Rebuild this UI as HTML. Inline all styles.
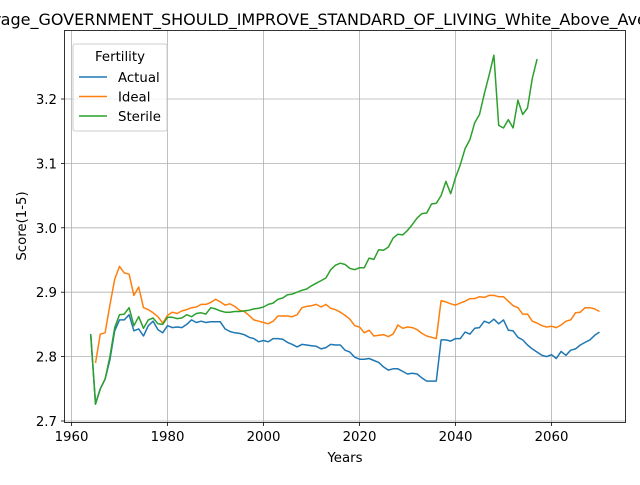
<!DOCTYPE html>
<html><head><meta charset="utf-8"><style>
body{margin:0;background:#fff;overflow:hidden;}
svg text{font-family:"DejaVu Sans","Liberation Sans",sans-serif;}
</style></head><body>
<svg id="chart" width="640" height="480" xmlns="http://www.w3.org/2000/svg">
<text x="324" y="25" font-size="16" text-anchor="middle">Average_GOVERNMENT_SHOULD_IMPROVE_STANDARD_OF_LIVING_White_Above_Average</text>
<g id="grid"></g>
<g id="series"></g>
<rect x="64.5" y="30.5" width="561" height="392" fill="none" stroke="#000" stroke-width="0.8"/>
<g id="ticks"></g>
<text x="345" y="462" font-size="13.3" text-anchor="middle">Years</text>
<text transform="translate(26,226) rotate(-90)" font-size="13.3" text-anchor="middle">Score(1-5)</text>
<g>
<rect x="73" y="44" width="94" height="87" fill="#fff" fill-opacity="0.8" stroke="#ccc" rx="2"/>
<text x="120" y="61" font-size="13.3" text-anchor="middle">Fertility</text>
<g id="legend-items"></g>
</g>
</svg>
<script>
const actualYears=[];for(let y=1964;y<=2070;y++)actualYears.push(y);
const actual=[2.835,2.727,2.75,2.765,2.795,2.84,2.857,2.857,2.865,2.84,2.843,2.832,2.848,2.855,2.842,2.837,2.848,2.845,2.846,2.845,2.85,2.857,2.853,2.855,2.853,2.854,2.854,2.854,2.843,2.839,2.837,2.836,2.834,2.83,2.828,2.823,2.825,2.823,2.828,2.828,2.827,2.822,2.819,2.815,2.819,2.818,2.817,2.816,2.812,2.814,2.819,2.818,2.818,2.81,2.807,2.799,2.796,2.796,2.797,2.794,2.791,2.784,2.779,2.781,2.781,2.777,2.773,2.774,2.773,2.767,2.762,2.762,2.762,2.826,2.826,2.824,2.828,2.828,2.838,2.835,2.844,2.845,2.855,2.852,2.858,2.851,2.857,2.841,2.84,2.83,2.826,2.818,2.812,2.807,2.802,2.8,2.803,2.797,2.808,2.802,2.81,2.812,2.818,2.822,2.826,2.833,2.838];
const idealYears=[];for(let y=1965;y<=2070;y++)idealYears.push(y);
const ideal=[2.79,2.835,2.837,2.88,2.92,2.94,2.93,2.928,2.895,2.908,2.876,2.873,2.868,2.862,2.852,2.864,2.869,2.867,2.871,2.873,2.876,2.877,2.881,2.881,2.884,2.889,2.885,2.88,2.882,2.878,2.872,2.87,2.864,2.857,2.855,2.853,2.851,2.855,2.863,2.863,2.863,2.862,2.865,2.876,2.878,2.879,2.881,2.877,2.881,2.875,2.873,2.869,2.864,2.858,2.848,2.846,2.837,2.841,2.832,2.833,2.834,2.831,2.835,2.849,2.844,2.846,2.845,2.842,2.836,2.832,2.83,2.828,2.887,2.885,2.882,2.88,2.883,2.886,2.89,2.89,2.893,2.892,2.895,2.895,2.893,2.893,2.886,2.879,2.876,2.866,2.866,2.855,2.852,2.848,2.846,2.847,2.845,2.849,2.855,2.857,2.868,2.869,2.876,2.876,2.874,2.87];
const sterileYears=[];for(let y=1964;y<=2057;y++)sterileYears.push(y);
const sterile=[2.835,2.726,2.75,2.765,2.8,2.845,2.865,2.866,2.876,2.848,2.862,2.844,2.857,2.86,2.851,2.85,2.861,2.861,2.859,2.86,2.865,2.862,2.867,2.868,2.866,2.876,2.874,2.871,2.869,2.869,2.87,2.87,2.871,2.872,2.874,2.875,2.877,2.881,2.883,2.889,2.891,2.896,2.897,2.9,2.903,2.905,2.91,2.914,2.918,2.922,2.935,2.942,2.945,2.943,2.937,2.935,2.938,2.938,2.953,2.951,2.966,2.965,2.97,2.984,2.99,2.989,2.996,3.005,3.015,3.022,3.023,3.037,3.038,3.05,3.072,3.053,3.078,3.098,3.123,3.137,3.163,3.176,3.208,3.237,3.268,3.159,3.155,3.168,3.155,3.198,3.176,3.186,3.232,3.262];
const xTicks=[1960,1980,2000,2020,2040,2060];
const yTicks=[2.7,2.8,2.9,3.0,3.1,3.2];
const seriesNames=["Actual","Ideal","Sterile"];
const colors=["#1f77b4","#ff7f0e","#2ca02c"];

const NS="http://www.w3.org/2000/svg";
function X(v){return 71.5+(v-1960)*4.8;}
function Y(v){return 421-(v-2.7)*644;}
function mk(tag,attrs,parent){const e=document.createElementNS(NS,tag);for(const k in attrs)e.setAttribute(k,attrs[k]);parent.appendChild(e);return e;}
const grid=document.getElementById('grid'),ticks=document.getElementById('ticks'),ser=document.getElementById('series');
xTicks.forEach(t=>{const x=X(t);
 const g=mk('line',{x1:x,x2:x,y1:30.5,y2:422.5,stroke:'#b0b0b0','stroke-width':0.8},grid);
 
 
 mk('line',{x1:x,x2:x,y1:422.5,y2:426,stroke:'#000','stroke-width':0.8},ticks);
 const tx=mk('text',{x:x,y:441,'font-size':13.3,'text-anchor':'middle'},ticks);tx.textContent=t;
 
 });
yTicks.forEach(t=>{const y=Y(t);
 const g=mk('line',{x1:64.5,x2:625.5,y1:y,y2:y,stroke:'#b0b0b0','stroke-width':0.8},grid);
 
 
 mk('line',{x1:61,x2:64.5,y1:y,y2:y,stroke:'#000','stroke-width':0.8},ticks);
 const tx=mk('text',{x:57,y:y+5,'font-size':13.3,'text-anchor':'end'},ticks);tx.textContent=t.toFixed(1);
 
 });
const data=[[actualYears,actual],[idealYears,ideal],[sterileYears,sterile]];
data.forEach((d,i)=>{const pts=d[0].map((yr,j)=>X(yr).toFixed(1)+','+Y(d[1][j]).toFixed(1)).join(' ');
 const p=mk('polyline',{points:pts,fill:'none',stroke:colors[i],'stroke-width':1.5,'stroke-linejoin':'round'},ser);
 
 });
const li=document.getElementById('legend-items');
seriesNames.forEach((n,i)=>{const y=77+i*19.5;
 const g=mk('g',{},li);
 
 
 mk('line',{x1:79,x2:107,y1:y,y2:y,stroke:colors[i],'stroke-width':1.5},g);
 const t=mk('text',{x:118,y:y+5,'font-size':13.3},g);t.textContent=n;});
</script>
</body></html>
